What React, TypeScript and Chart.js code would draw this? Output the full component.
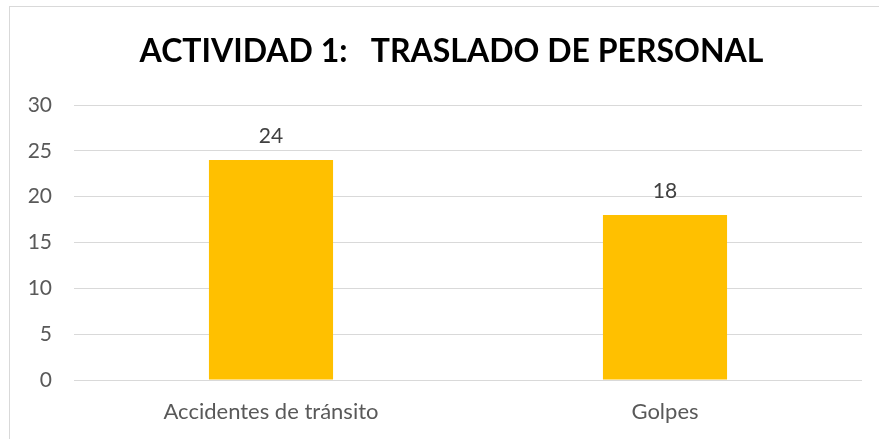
import React, { useEffect, useRef } from "react";
import { Chart, registerables } from "chart.js";

Chart.register(...registerables);

const categories = ["Accidentes de tránsito", "Golpes"];
const values = [24, 18];
const titleText = "ACTIVIDAD 1:   TRASLADO DE PERSONAL";
const yMin = 0;
const yMax = 30;
const yStep = 5;

const FONT = "Lato, 'Open Sans', sans-serif";

export default function App() {
  const ref = useRef<HTMLCanvasElement | null>(null);

  useEffect(() => {
    if (!ref.current) return;
    const labelPlugin = {
      id: "labelsAndTitle",
      afterDatasetsDraw(chart: any) {
        const ctx = chart.ctx;
        ctx.save();
        const meta = chart.getDatasetMeta(0);
        ctx.fillStyle = "#404040";
        ctx.font = `21px ${FONT}`;
        ctx.textAlign = "center";
        ctx.textBaseline = "alphabetic";
        meta.data.forEach((bar: any, i: number) => {
          ctx.fillText(String(values[i]), bar.x, bar.y - 17);
        });
        ctx.fillStyle = "#000000";
        ctx.font = `bold 32px ${FONT}`;
        ctx.fillText(titleText, chart.width / 2 + 12, 62);
        ctx.restore();
      },
    };
    const chart = new Chart(ref.current, {
      type: "bar",
      data: {
        labels: categories,
        datasets: [
          {
            data: values,
            backgroundColor: "#FFC000",
            barPercentage: 0.63,
            categoryPercentage: 0.5,
          },
        ],
      },
      options: {
        responsive: false,
        animation: false,
        layout: { padding: { top: 105, right: 17, left: 0, bottom: 0 } },
        plugins: {
          legend: { display: false },
          title: { display: false },
          tooltip: { enabled: false },
        },
        scales: {
          x: {
            grid: { display: false, drawTicks: false },
            border: { display: false },
            ticks: {
              color: "#595959",
              font: { family: FONT, size: 22 },
              padding: 19,
            },
            afterFit(axis: any) {
              axis.height = 59;
            },
          },
          y: {
            min: yMin,
            max: yMax,
            grid: { color: "#d9d9d9", lineWidth: 1, drawTicks: false },
            border: { display: false },
            ticks: {
              stepSize: yStep,
              color: "#595959",
              font: { family: FONT, size: 21 },
              padding: 22,
            },
            afterFit(axis: any) {
              axis.width = 74;
            },
          },
        },
      },
      plugins: [labelPlugin],
    });
    return () => chart.destroy();
  }, []);

  return (
    <div style={{ position: "fixed", left: 0, top: 0, width: 879, height: 439, background: "#fff" }}>
      <div
        style={{
          position: "absolute",
          left: 9,
          top: 6,
          width: 900,
          height: 500,
          border: "1px solid #d9d9d9",
          boxSizing: "border-box",
        }}
      />
      <canvas
        ref={ref}
        width={879}
        height={439}
        style={{ position: "absolute", left: 0, top: 0, display: "block" }}
      />
    </div>
  );
}
